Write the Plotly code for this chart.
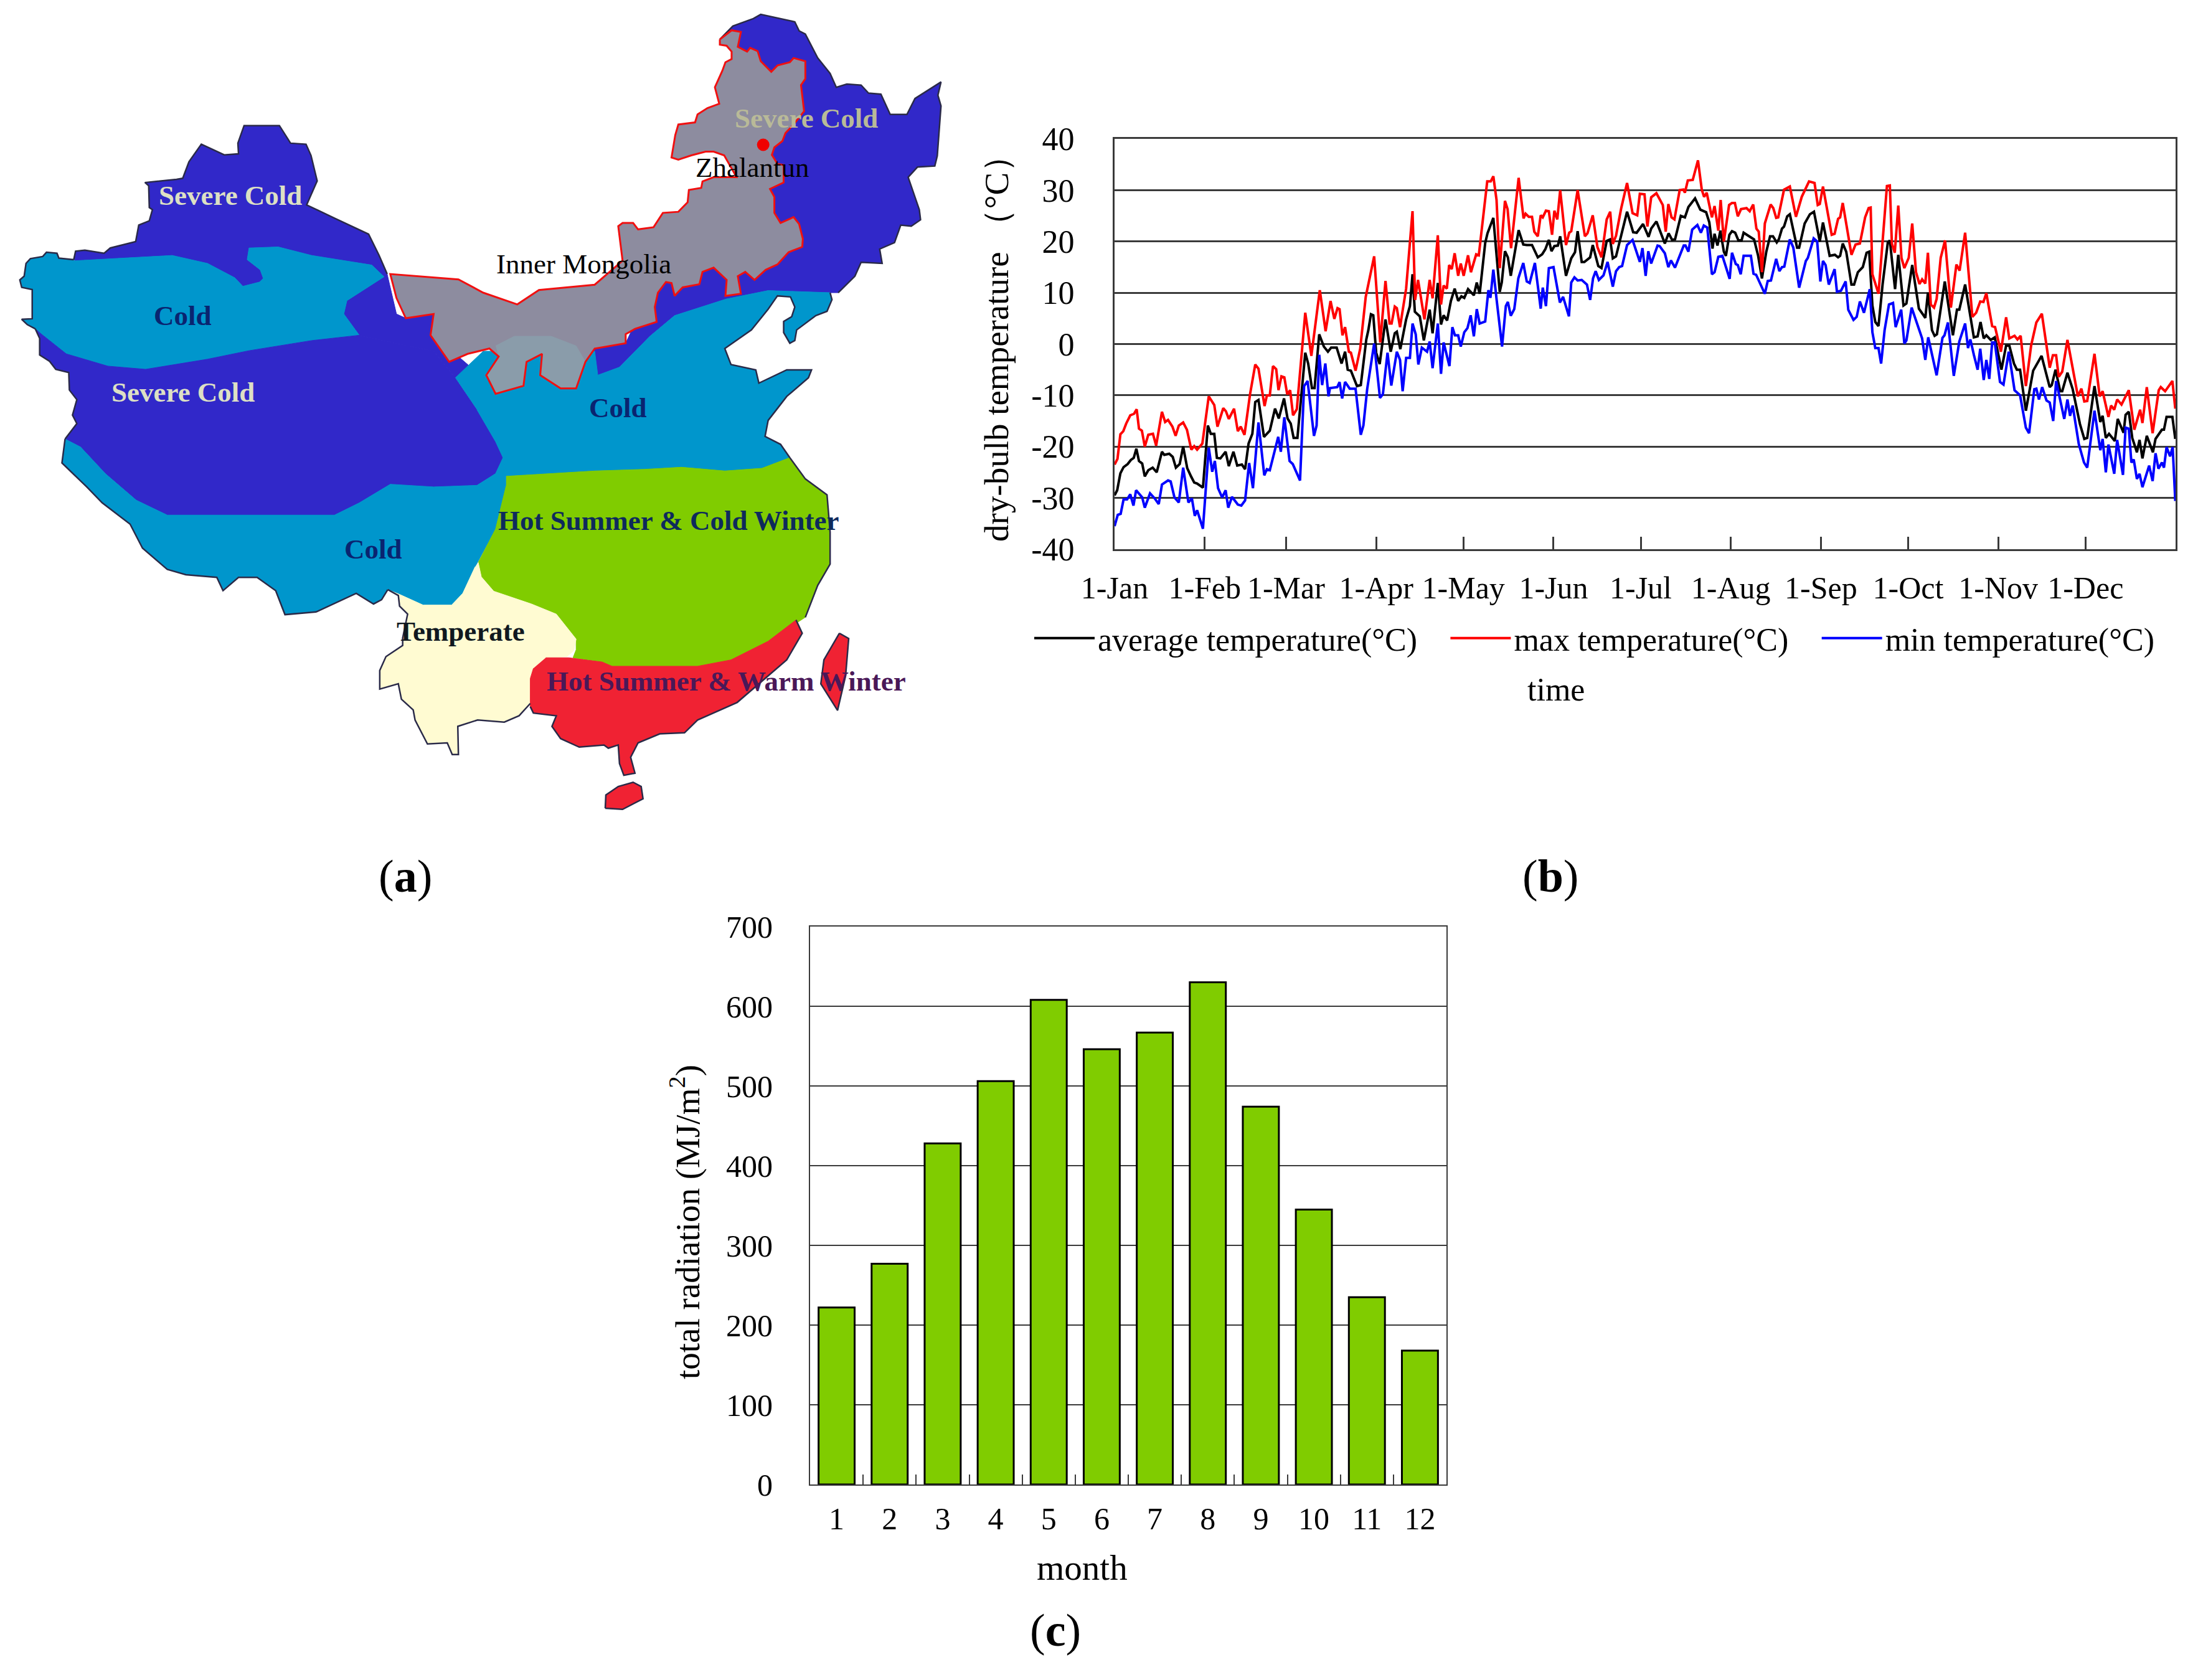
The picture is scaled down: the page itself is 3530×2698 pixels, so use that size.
import plotly.graph_objects as go

PAGE_W, PAGE_H = 3530, 2698
BODY_MARGIN = 8                 # the browser page adds this around the figure
W, H = PAGE_W - BODY_MARGIN, PAGE_H - BODY_MARGIN
SERIF = "Liberation Serif"

# ---------- panel (b): daily dry-bulb temperature, vertices ----------
month_days = [0, 31, 59, 90, 120, 151, 181, 212, 243, 273, 304, 334]
month_labels = ["1-Jan", "1-Feb", "1-Mar", "1-Apr", "1-May", "1-Jun", "1-Jul", "1-Aug", "1-Sep", "1-Oct", "1-Nov", "1-Dec"]
temp_ticks = [-40, -30, -20, -10, 0, 10, 20, 30, 40]
temp_tick_labels = ["-40", "-30", "-20", "-10", "0", "10", "20", "30", "40"]

max_temp = [
 (0,-23.5),(1,-22.4),(2,-17.6),(3,-17),(4,-15.5),(5.4,-13.9),(6.7,-13.6),(7.6,-12.7),(8.4,-16.5),(9.4,-16.9),(10.4,-20),(11.6,-17.7),(13.2,-17.5),(14.3,-19.8),(16.3,-13.2),(17.4,-15.2),(18.4,-14.8),(19.9,-16.1),(21,-17.9),(22.1,-15.9),(23.6,-15.3),(24.9,-16.7),(26.4,-20.6),(27.4,-19.9),(28.4,-20.6),(30.2,-19.4),(32.4,-10.2),(34.3,-11.9),(35.4,-16.1),(37.4,-12.5),(38.3,-13.1),(39.3,-14.6),(41.1,-12.6),(42.4,-17),(43.4,-16.1),(44.7,-17.7),(46.6,-9.8),(48.4,-4),(49.5,-4.8),(51.6,-12.1),(52.4,-10),(53.4,-10),(54.5,-4.3),(55.6,-4.9),(56.4,-9),(57.4,-6.3),(58.4,-6.5),(59.4,-9.8),(60.4,-9),(61.4,-13.9),(62.7,-12.7),(65.6,6.1),(67.7,-2.3),(70.6,10.5),(72.6,2.5),(74.3,8.4),(75.6,4.9),(76.7,7),(77.4,6.8),(78.4,1.7),(79.3,3.3),(80.6,-1.5),(81.3,-1.7),(82.9,-5.2),(84.5,-0.9),(86.4,9.2),(89.3,17.1),(91.4,0.3),(93.2,12.3),(94.6,4),(95.3,4),(96.4,7.3),(97.1,7),(98.2,3.3),(100.3,10.8),(102.5,25.9),(103.4,8.6),(104.4,12.5),(106.6,4.8),(108.4,12.5),(109.4,8.9),(111.2,21.2),(112.3,7.7),(113.2,11.4),(114.3,10.8),(115.1,15.4),(116,14.6),(117,17.7),(118.2,13.3),(119.1,15.7),(120.1,13.3),(121.6,17.3),(122.6,14),(124.4,17.5),(125.3,17.3),(126.8,24.5),(128.2,31.7),(129.4,31.7),(130.3,32.7),(131.4,28.1),(132.5,14.8),(134.3,27.9),(135.2,26.3),(136.4,18.7),(139,32.4),(140.7,24.5),(141.4,25.4),(142.5,24.8),(143.6,24.8),(144.4,21.9),(145.6,21),(146.6,25.1),(147.3,24.7),(148.4,26),(149.4,25.9),(150.5,21.3),(151.3,26),(152.3,24.3),(153.3,30),(155.3,19.3),(156.4,21.7),(157.1,22),(159.3,30),(161.8,21),(162.7,21.6),(164.5,25.1),(166.1,18.9),(167.5,16.9),(169.3,24.3),(170.5,25.8),(171.4,19.5),(172.5,21.1),(174.3,26.5),(176.3,31.4),(178.2,25.5),(179.8,25.1),(180.7,29.3),(182.3,29.2),(183.3,22.9),(184.6,28.6),(186.4,29.4),(188.6,27.1),(189.6,21.9),(190.5,27.3),(191.6,24.7),(192.6,24.3),(194.4,30),(195.7,30.1),(196.2,29.5),(197.2,31.9),(198.9,32),(200.7,35.8),(202,30.1),(202.8,28.7),(203.7,29.5),(205.5,24.7),(206.4,26.9),(207.7,22.1),(208.5,28.1),(209.6,20),(211.4,27.1),(212.4,27.5),(213.4,27.5),(214.4,24.9),(215.5,26.3),(217.4,26.5),(218.5,25.9),(219.7,27.2),(220.8,22.5),(221.6,21.9),(222.7,14),(223.7,23.5),(225.7,27.2),(226.6,26.5),(227.6,24.6),(228.3,24.7),(230.3,30.1),(232.3,30.7),(234.4,24.8),(236.4,28.7),(238.9,31.7),(240.8,31.4),(241.9,27.1),(242.6,27.3),(243.7,30.7),(246.7,21.3),(247.7,21.5),(248.9,24.4),(249.6,24.7),(250.5,27.5),(253.5,17.4),(254.9,19.4),(256.4,19.6),(258.2,24.7),(259.4,26.5),(260.1,26.6),(260.7,13.6),(262.8,9.8),(265.7,30.8),(266.7,30.9),(267.4,19.6),(268.4,17.8),(269.6,27),(270.7,16.8),(271.7,14.8),(273.2,16.8),(274.4,23.5),(275.7,14),(276.9,11.7),(277.8,12.6),(278.9,11.8),(279.8,17.8),(280.8,7.7),(281.9,7.1),(282.8,8.8),(284.2,16.8),(285.7,20.2),(287.7,7.1),(289.6,15.5),(290.7,14.3),(292.6,21.7),(295.1,5.3),(296.4,6.1),(297.8,8.3),(298.9,8.2),(299.9,9.9),(301.9,3.5),(302.9,3.3),(304.9,-1.5),(306.7,5.2),(307.8,1.1),(309.6,1.6),(310.6,0.9),(311.7,1.6),(313.5,-8.2),(315.3,-0.3),(317.1,4.2),(319,5.9),(321.7,-4.6),(322.8,-2.2),(323.9,-2.2),(324.8,-6.4),(326,-5.4),(327.8,0.8),(331.4,-10.2),(332.6,-8.7),(333.6,-11.2),(334.6,-11.1),(337.1,-1.9),(338.9,-10.2),(339.9,-9.2),(341.9,-14.2),(342.8,-12),(343.9,-12.8),(344.9,-10.8),(346.4,-11.8),(348.9,-9),(350.8,-16.7),(352.8,-12.8),(353.6,-15.4),(355.1,-8.4),(357.1,-17.4),(359.2,-9),(359.9,-8.4),(361.4,-9.2),(363.9,-7.2),(364.9,-12.6)]

avg_temp = [
 (0,-29.5),(0.9,-28.5),(2,-25.2),(3.1,-24),(4.5,-23.4),(5.6,-22.6),(6.6,-22.2),(7.5,-20.4),(8.4,-22.8),(9.5,-23.3),(10.4,-25.8),(11.6,-24.6),(13.1,-24.1),(14.5,-25),(16.3,-21),(17.1,-21.6),(18.8,-21.4),(20,-22),(21.1,-24.1),(22.4,-23.4),(23.6,-20),(25,-24.2),(26.3,-25.8),(27.4,-27),(28.4,-27.2),(30.4,-28),(32.1,-15.9),(33.1,-17.5),(34.3,-17.5),(35.2,-22.2),(36.4,-22.3),(38.2,-21),(39.3,-23.8),(40.9,-21),(42.2,-23.7),(43.8,-23.5),(44.9,-24.4),(46.1,-19.4),(47.4,-17.5),(48.4,-11.3),(49.5,-10.9),(51.4,-18.1),(53.4,-16.9),(55.2,-12.6),(56.5,-14.5),(58.3,-10.6),(59.5,-14.5),(60.6,-15.5),(61.6,-18.3),(62.9,-18.3),(65.6,-1.7),(66.6,-3.8),(67.9,-8.6),(68.8,-8.6),(70.4,1.9),(72,-0.5),(73.4,-1.5),(74.5,-0.7),(76.4,-0.7),(78.1,-3.8),(79.3,-1.5),(80.2,-5),(81.3,-5.2),(83.4,-8.2),(84.7,-8),(86.6,0.9),(87.3,2.7),(88.2,5.8),(89,5.6),(90,-1.7),(91.2,-3.9),(93.2,4.8),(95,-1.5),(96.4,2.1),(97.1,2.4),(98.3,-1),(100.3,4.8),(101.6,7.4),(102.5,13.6),(103.3,6.3),(105,5.4),(106.4,0.7),(108.4,6.7),(109.4,2.1),(111.2,11.9),(112.3,3.8),(113.2,5.6),(114.4,4.6),(115.7,8.4),(117,10.8),(118.2,8.4),(119.3,9.3),(120.3,9),(121.6,10.7),(123.6,9.5),(124.6,12),(125.6,9.8),(127.5,19.7),(128.3,21.6),(130.3,24.6),(132.5,10.2),(133.2,12),(134.3,18.1),(135.3,16.9),(136.3,13.3),(139,22.2),(140.6,19.4),(141.8,19.3),(143.6,19.3),(145.6,16.9),(147.1,17.5),(148.2,18.5),(149.4,20.3),(150.3,18.1),(151.3,19.1),(152.5,19.2),(153.3,21),(155.3,13.3),(157.1,16.7),(158.4,17.9),(159.3,22),(160.7,16),(161.6,16),(163.6,16.9),(164.5,19.3),(166.4,15.2),(167.5,14.8),(169.3,20.1),(170.5,20.4),(171.4,16.7),(172.5,17.1),(176.3,25.8),(178.4,21.8),(179.6,21.7),(181.8,23.4),(183.7,20.9),(184.6,22.5),(186.4,23.9),(189.3,19.6),(190.6,21.6),(191.8,20.3),(192.8,20.4),(194.8,25),(196.2,24.7),(197.4,26.7),(199.7,28.4),(201.5,26.2),(203.5,25.7),(204.6,23.7),(205.7,18.6),(206.4,21.5),(207.4,19.2),(208.4,22.1),(209.6,18),(210.3,17.2),(211.5,21.3),(212.4,22),(213.5,21.7),(214.6,20.2),(215.7,20.2),(216.4,21.7),(217.8,21.2),(220,20.4),(221.4,17.2),(222.7,12.8),(224.2,18),(225.5,21),(226.5,21),(227.8,19.8),(228.5,20.4),(229.6,22.5),(230.3,22.9),(231.4,24.9),(232.3,25.3),(234.8,18.8),(235.5,18.8),(237.4,23.5),(239.2,25.3),(240.6,25.8),(242.6,20),(243.7,23.7),(246,17.2),(247.8,17.4),(248.9,16.9),(249.6,17.2),(250.5,19.6),(251.7,18),(253.5,11.6),(254.4,11.6),(255.7,14),(257.4,15),(258.7,17.8),(259.6,18),(260.7,7.5),(261.7,4.3),(262.8,3.5),(264.2,11.6),(266,19.8),(266.7,20.2),(268.5,10.7),(269.6,17.4),(271.4,7.5),(272.4,7.9),(274.4,15.4),(276.7,6.9),(278.9,5.1),(279.8,10),(281.2,2.7),(282.1,1.6),(282.9,1.9),(285.6,12.2),(288.4,1.7),(289.8,6.7),(290.6,6.7),(292.6,11.6),(295.6,1.3),(296.9,1.5),(297.9,4.3),(299,1.1),(299.9,1.7),(301.4,0.8),(302.8,1.3),(305.1,-5),(306.7,-0.3),(307.8,-0.3),(309.4,-3.8),(310.4,-5),(311.5,-5),(313.5,-13),(316,-5.2),(318.9,-2.3),(321.7,-8.4),(322.4,-8),(323.7,-5),(325.3,-9.2),(326,-9.2),(327.8,-5.6),(329.6,-8.8),(332.1,-15.6),(333.6,-18.5),(334.6,-18.3),(337.1,-8.2),(339.1,-15.2),(339.9,-14),(341,-18.3),(342.1,-17.5),(344.1,-18.9),(345.1,-14.6),(347.1,-17.3),(347.8,-13.8),(348.9,-13.2),(350.1,-18.3),(351.7,-21.1),(352.6,-18.7),(353.6,-22.3),(355.1,-17.9),(357.2,-21.1),(358.1,-18.5),(360.3,-16.7),(361,-16.7),(361.9,-14.2),(363.9,-14.2),(364.9,-18.5)]

min_temp = [
 (0,-35.5),(1.1,-33.3),(2.1,-33.1),(3.1,-30.3),(4.3,-30.3),(5.4,-29.3),(6.5,-31.5),(7.4,-28.5),(9.5,-29.9),(10.4,-31.9),(12.2,-29.1),(13.8,-30.1),(15.2,-31.2),(16.3,-27.4),(18.4,-26.6),(19.3,-26.8),(20.6,-29.9),(22.1,-30.9),(23.6,-24.1),(25.4,-30.9),(26.6,-30.1),(27.6,-33.5),(28.4,-32.4),(30.4,-36),(32.4,-20.2),(33.6,-24.9),(34.5,-22.8),(35.6,-28.1),(37,-29.9),(38.2,-28.5),(39.1,-31.9),(40.4,-29.8),(42.4,-31.3),(43.6,-31.5),(44.9,-30.5),(46.3,-23.2),(47.6,-28.1),(49.5,-15.3),(51.5,-25.6),(52.4,-24.4),(53.4,-24.6),(56.3,-18.1),(57.2,-21),(58.4,-14.3),(60.2,-22.8),(61.3,-23.4),(63.8,-26.6),(65.2,-8.2),(66.4,-7.2),(68.6,-17.9),(69.5,-15.9),(70.4,-2.1),(71.4,-8),(72.5,-3.8),(73.6,-10.2),(74.1,-8.6),(76.6,-8.4),(77.4,-7.4),(78.3,-10.6),(79.3,-7.4),(80.9,-8.7),(82.9,-8.7),(84.7,-17.7),(85.6,-15.9),(86.9,-8.8),(89.3,0.1),(91.3,-10.5),(92.3,-9.8),(93.9,-1.7),(95.2,-8.1),(97.1,-1.5),(98.2,-3.1),(99.1,-9.2),(100.3,-2.7),(101.6,-2.7),(102.5,4),(103.6,1.9),(104.5,-4),(105.7,-0.7),(107.5,-1.5),(108.4,0.5),(109.4,-4.7),(111.2,4),(112.3,-5.8),(113.2,0.3),(115.2,-4.3),(116.2,3.3),(117.1,1.7),(118.2,1.7),(119.1,-0.5),(120.3,2.3),(121.4,3.1),(122.5,5.6),(123.6,1.5),(124.6,6.8),(125.6,4),(127.5,4.4),(128.6,10.5),(129.3,9),(130.3,14.5),(131.4,8.8),(133.3,-0.5),(134.6,7.4),(135.3,8.2),(136.3,5.5),(137.5,6.8),(138.9,12.8),(140.6,15.8),(141.8,12.2),(142.8,11.9),(144.6,15.8),(146.6,6.9),(147.3,11),(148.4,7.4),(149.4,14.8),(151,15),(153.2,8.1),(154.3,9.2),(156.3,5.4),(157.1,12),(158.2,13),(159.3,12.4),(160.7,12.5),(162.5,11.6),(163.6,8.6),(164.6,12.8),(165.5,14.2),(166.6,12.5),(168.2,13.4),(169.6,16),(171.4,11.2),(172.5,14.2),(173.6,15),(174.6,15.2),(176.3,19.3),(178.2,20.3),(180.7,16),(181.6,18.7),(182.7,13.3),(183.6,18.1),(184.6,15.7),(186.8,19.2),(187.5,19.1),(189.3,17.7),(190.5,15),(191.4,16.3),(192.8,14.9),(195.8,19.2),(196.4,19.2),(197.4,18),(198.7,22.3),(200.5,23.2),(201.7,21.7),(202.7,23.1),(203.9,22.7),(205.5,13.6),(206.4,14),(207.7,17),(209.1,17.2),(211.6,12.7),(212.4,17.8),(213.7,15.6),(214.4,15.4),(215.4,13.6),(216.4,17.2),(218.9,17.2),(219.8,13.7),(220.7,13.5),(223.7,9.8),(224.7,12.3),(225.8,12.4),(227.6,16.6),(228.7,14.2),(229.6,15),(230.4,15.1),(232.3,20.4),(233.5,18.8),(235.5,11),(237.8,16.2),(238.5,16.8),(240.5,20.6),(241.7,20),(242.8,12.2),(243.7,16.2),(244.6,15.4),(245.7,11.6),(247.7,14.6),(248.5,10.2),(249.9,10.4),(251.5,12.2),(252.4,6.7),(254.2,4.7),(255.3,5.3),(256.4,8.3),(257.8,6.1),(259.8,10.7),(260.7,2.3),(261.7,-0.8),(262.8,-0.8),(263.7,-3.8),(264.9,2.7),(266.4,7.7),(267.8,8),(268.7,3.3),(270.6,6.7),(271.7,0.1),(272.4,0.7),(274.2,7.1),(277.8,1.1),(278.9,-3.1),(279.9,1.3),(282.8,-6.1),(284.8,1.2),(285.5,1.7),(286.7,4.2),(288.7,-6.2),(290.6,0.5),(292.6,4),(293.6,-0.8),(294.4,0.9),(295.6,-2.1),(296.9,-5),(297.8,-0.9),(299,-7),(299.9,-3.1),(300.9,-6.8),(301.9,0.3),(302.8,0.3),(304.6,-7.4),(305.8,-7.9),(307.6,-1.5),(309.6,-9),(311.5,-10),(313.5,-16.3),(314.6,-17.4),(316.4,-8.8),(317.1,-8.7),(318,-10.8),(319.1,-8.4),(320.6,-11),(321.7,-11.4),(322.9,-15),(323.9,-7.2),(326.7,-14.6),(327.8,-10.8),(328.7,-14),(329.6,-12),(331.7,-19.5),(333.5,-23.1),(334.6,-24.1),(337.1,-13),(339.1,-20.7),(339.9,-18.5),(341,-25),(341.9,-19.6),(343.9,-25.3),(344.9,-18.7),(346.9,-25.5),(347.8,-16.3),(348.9,-16.5),(349.8,-23.1),(350.6,-22.5),(351.7,-26.3),(352.6,-25.3),(353.6,-27.9),(355.9,-23.7),(357.1,-26.7),(358.1,-21.3),(359.1,-24.3),(360.3,-23.1),(361,-24.1),(361.9,-20.1),(363.1,-21.9),(364,-20.1),(364.9,-30.6)]

# ---------- panel (c): monthly total radiation ----------
months = [str(m) for m in range(1, 13)]
radiation = [222, 277, 428, 506, 608, 546, 567, 630, 474, 345, 235, 168]

# ---------- panel (a): climate-zone outlines, traced on the map's own coordinate plane ----------
severe_nw = [(119,488),(122,472),(137,470),(168,476),(178,466),(219,454),(224,423),(241,415),(246,394),(241,390),(240,349),(234,343),(285,337),(295,335),(305,304),(325,271),(362,291),(385,289),(384,269),(394,236),(451,236),(469,269),(494,271),(502,292),(512,340),(495,385),(540,410),(595,440),(612,480),(625,515),(640,590),(655,598),(700,590),(700,630),(760,690),(735,710),(700,660),(580,630),(555,590),(560,565),(620,520),(600,498),(503,480),(449,464),(402,466),(399,488),(420,507),(425,523),(419,530),(392,538),(379,522),(335,495),(278,480),(121,490)]
cold_north = [(119,488),(95,485),(92,476),(75,474),(69,482),(49,486),(42,495),(39,519),(32,526),(35,540),(52,544),(52,599),(35,600),(44,610),(57,618),(67,628),(107,665),(174,688),(235,694),(335,675),(402,659),(503,640),(580,630),(555,590),(560,565),(620,520),(600,498),(503,480),(449,464),(402,466),(399,488),(420,507),(425,523),(419,530),(392,538),(379,522),(335,495),(278,480),(121,490)]
severe_mid = [(57,618),(67,628),(107,665),(174,688),(235,694),(335,675),(402,659),(503,640),(580,630),(700,660),(735,710),(770,770),(800,830),(812,860),(800,890),(770,912),(700,915),(630,910),(580,945),(540,968),(400,968),(270,968),(220,940),(170,890),(130,840),(105,825),(124,796),(117,780),(124,751),(112,733),(111,700),(90,694),(80,679),(64,667),(64,636)]
cold_south = [(105,825),(130,840),(170,890),(220,940),(270,968),(400,968),(540,968),(580,945),(630,910),(700,915),(770,912),(800,890),(812,860),(817,895),(817,913),(800,994),(767,1065),(747,1115),(729,1137),(683,1137),(645,1117),(626,1108),(616,1127),(603,1135),(575,1115),(510,1150),(460,1155),(445,1110),(415,1085),(385,1085),(360,1110),(350,1085),(300,1080),(270,1070),(250,1050),(230,1030),(210,985),(165,945),(140,915),(100,870)]
severe_ne = [(1162,74),(1183,49),(1216,35),(1228,27),(1283,41),(1290,58),(1300,64),(1320,109),(1340,138),(1350,164),(1367,158),(1390,160),(1402,175),(1422,177),(1437,215),(1464,215),(1477,185),(1519,154),(1514,179),(1519,199),(1513,293),(1509,312),(1481,314),(1466,333),(1484,394),(1486,413),(1471,425),(1454,423),(1444,456),(1420,468),(1424,495),(1390,493),(1380,519),(1353,550),(1340,550),(1240,546),(1172,562),(1089,593),(1049,632),(1000,690),(965,705),(945,680),(960,655),(1010,645),(1020,620),(1057,590),(1057,540),(1200,450),(1220,300),(1220,150)]
cold_east = [(735,710),(780,660),(960,660),(965,705),(1000,690),(1049,632),(1089,593),(1172,562),(1240,546),(1340,550),(1343,563),(1335,585),(1317,593),(1286,620),(1283,640),(1275,645),(1265,625),(1265,604),(1278,595),(1283,577),(1276,558),(1255,556),(1240,581),(1213,620),(1170,655),(1180,685),(1220,695),(1225,720),(1270,695),(1310,695),(1305,710),(1270,745),(1240,790),(1235,820),(1260,835),(1275,860),(1230,880),(1170,885),(1100,878),(1040,882),(960,885),(817,895),(812,860),(800,830),(770,770)]
inner_mongolia = [(1162,74),(1181,57),(1196,60),(1191,88),(1206,97),(1211,90),(1223,96),(1228,115),(1245,135),(1255,123),(1275,117),(1281,109),(1300,115),(1300,148),(1293,160),(1298,209),(1281,234),(1268,250),(1263,265),(1250,277),(1246,291),(1255,308),(1265,310),(1265,343),(1243,355),(1250,370),(1250,400),(1260,419),(1281,408),(1290,421),(1296,449),(1295,464),(1273,474),(1255,497),(1236,507),(1218,526),(1203,511),(1191,519),(1196,552),(1171,556),(1173,526),(1152,503),(1134,511),(1129,534),(1102,540),(1089,556),(1084,532),(1075,530),(1062,550),(1057,577),(1060,605),(1025,618),(1010,628),(1010,645),(960,655),(945,680),(930,730),(905,730),(872,705),(875,665),(850,680),(845,725),(800,740),(785,705),(805,670),(790,655),(755,665),(725,680),(695,630),(700,590),(655,598),(640,560),(630,515),(740,525),(780,550),(835,572),(870,545),(960,535),(1005,490),(998,425),(1005,419),(1022,419),(1030,431),(1055,427),(1070,400),(1095,398),(1110,380),(1112,357),(1132,353),(1134,341),(1152,333),(1189,333),(1169,292),(1152,285),(1139,285),(1116,292),(1095,300),(1084,296),(1090,254),(1095,234),(1122,230),(1126,215),(1142,203),(1161,195),(1154,164),(1166,133),(1171,117),(1181,111),(1181,97),(1173,86),(1162,84),(1162,74)]
mongolia_patch = [(800,650),(830,632),(890,632),(930,650),(945,680),(930,730),(905,730),(872,705),(875,665),(850,680),(845,725),(800,740),(785,705),(805,670)]
hscw = [(817,895),(960,885),(1040,882),(1100,878),(1170,885),(1230,880),(1275,860),(1300,900),(1335,930),(1340,1000),(1340,1060),(1320,1100),(1300,1160),(1240,1205),(1180,1240),(1126,1252),(988,1252),(972,1244),(925,1236),(930,1221),(930,1201),(898,1154),(858,1135),(797,1111),(777,1084),(772,1057),(800,994),(817,913)]
temperate = [(772,1057),(777,1084),(797,1111),(858,1135),(898,1154),(930,1201),(926,1223),(915,1234),(881,1236),(861,1256),(856,1275),(856,1322),(838,1345),(814,1357),(771,1353),(739,1365),(740,1418),(730,1418),(722,1396),(690,1398),(670,1353),(667,1334),(648,1314),(643,1285),(613,1295),(613,1260),(623,1234),(650,1213),(650,1199),(658,1154),(645,1139),(643,1119),(626,1108),(645,1117),(683,1137),(729,1137),(747,1115),(767,1065)]
hsww = [(881,1236),(918,1236),(972,1244),(988,1252),(1126,1252),(1180,1240),(1240,1205),(1285,1165),(1295,1190),(1270,1240),(1230,1280),(1190,1320),(1126,1353),(1105,1377),(1065,1379),(1030,1396),(1018,1423),(1025,1453),(1007,1457),(1000,1435),(998,1400),(982,1406),(975,1400),(935,1404),(905,1388),(891,1365),(898,1345),(861,1340),(856,1328),(856,1275),(861,1256)]
hainan = [(977,1519),(978,1494),(998,1478),(1022,1470),(1035,1478),(1038,1501),(1005,1521),(977,1519)]
taiwan = [(1355,1190),(1370,1200),(1365,1270),(1352,1335),(1325,1285),(1330,1240),(1355,1190)]
zhalantun = (1232, 272)

DARK_BLUE, CYAN, GRAY = "#3128C9", "#0096CC", "#8D8C9F"
GREEN, CREAM, RED = "#80CC00", "#FFFBD2", "#F02233"
COAST = "#2A2A48"

map_regions = [
    (severe_ne, DARK_BLUE), (severe_nw, DARK_BLUE), (cold_north, CYAN), (severe_mid, DARK_BLUE),
    (cold_south, CYAN), (cold_east, CYAN), (hscw, GREEN), (temperate, CREAM), (hsww, RED),
    (hainan, RED), (taiwan, RED), (inner_mongolia, GRAY), (mongolia_patch, "#8A9CAA"),
]
map_labels = [
    ("<b>Severe Cold</b>", 372, 367, "#DDE0C4"), ("<b>Cold</b>", 295, 593, "#0A2470"),
    ("<b>Severe Cold</b>", 296, 737, "#DDE0C4"), ("<b>Cold</b>", 998, 767, "#0A2470"),
    ("<b>Cold</b>", 603, 1032, "#0A2470"), ("<b>Hot Summer &amp; Cold Winter</b>", 1080, 978, "#0E2A5C"),
    ("<b>Temperate</b>", 744, 1187, "#101820"), ("<b>Hot Summer &amp; Warm Winter</b>", 1172, 1280, "#4A1858"),
    ("<b>Severe Cold</b>", 1302, 222, "#B9BA98"),
    ("Inner Mongolia", 942, 496, "black"), ("Zhalantun", 1214, 315, "black"),
]


def between(poly, a, b):
    return poly[poly.index(a):poly.index(b) + 1]


coastlines = [
    between(severe_nw, (119,488), (625,515)),
    between(cold_north, (119,488), (57,618)),
    between(severe_mid, (105,825), (64,636)) + [(57,618)],
    between(cold_south, (626,1108), (100,870)) + [(105,825)],
    between(temperate, (856,1322), (626,1108)),
    between(hsww, (1285,1165), (856,1328)),
    between(severe_ne, (1162,74), (1353,550)),
    between(cold_east, (1340,550), (1275,860)),
    between(hscw, (1275,860), (1300,1160)),
    hainan, taiwan,
]

fig = go.Figure()

# map
for region, colour in map_regions:
    fig.add_trace(go.Scatter(x=[p[0] for p in region], y=[p[1] for p in region], fill="toself",
                             fillcolor=colour, mode="lines", line=dict(color=colour, width=1),
                             xaxis="x3", yaxis="y3", showlegend=False, hoverinfo="skip"))
for line in coastlines:
    fig.add_trace(go.Scatter(x=[p[0] for p in line], y=[p[1] for p in line], mode="lines",
                             line=dict(color=COAST, width=2.5), xaxis="x3", yaxis="y3",
                             showlegend=False, hoverinfo="skip"))
fig.add_trace(go.Scatter(x=[p[0] for p in inner_mongolia], y=[p[1] for p in inner_mongolia], mode="lines",
                         line=dict(color="#F01010", width=3), xaxis="x3", yaxis="y3",
                         showlegend=False, hoverinfo="skip"))
fig.add_trace(go.Scatter(x=[zhalantun[0]], y=[zhalantun[1]], mode="markers",
                         marker=dict(color="#F00000", size=20), xaxis="x3", yaxis="y3",
                         showlegend=False, hoverinfo="skip"))

# temperature (trailing spaces reproduce the wider gaps between legend entries)
GAP = "\u00a0\u00a0\u00a0\u200a"
for name, series, colour in [("average temperature(°C)" + GAP, avg_temp, "#000000"),
                             ("max temperature(°C)" + GAP, max_temp, "#FF0000"),
                             ("min temperature(°C)", min_temp, "#0000FF")]:
    fig.add_trace(go.Scatter(x=[p[0] for p in series], y=[p[1] for p in series], mode="lines", name=name,
                             line=dict(color=colour, width=4), xaxis="x", yaxis="y"))

# radiation
fig.add_trace(go.Bar(x=months, y=radiation, marker=dict(color="#80CC00", line=dict(color="black", width=3)),
                     xaxis="x2", yaxis="y2", showlegend=False))


def px_x(v):
    return (v - BODY_MARGIN) / W


def px_y(v):
    return 1 - (v - BODY_MARGIN) / H


AXIS_COLOR = "#3A3A3A"
annotations = []
for text, x, y, colour in map_labels:
    annotations.append(dict(text=text, x=x, y=y, xref="x3", yref="y3", showarrow=False,
                            font=dict(family=SERIF, size=45, color=colour)))
for text, x, y, size, angle in [
    ("dry-bulb temperature （°C）", 1601, 546, 55, -90),
    ("time", 2499, 1107, 52, 0),
    ("total radiation (MJ/m<sup>2</sup>)", 1101, 1963, 55, -90),
    ("month", 1738, 2517, 57, 0),
    ("(<b>a</b>)", 651, 1407, 74, 0),
    ("(<b>b</b>)", 2490, 1407, 74, 0),
    ("(<b>c</b>)", 1695, 2618, 74, 0),
]:
    annotations.append(dict(text=text, x=px_x(x), y=px_y(y), xref="paper", yref="paper", showarrow=False,
                            textangle=angle, xanchor="center", yanchor="middle",
                            font=dict(family=SERIF, size=size, color="black")))

fig.update_layout(
    width=W, height=H, autosize=False, margin=dict(l=0, r=0, t=0, b=0, autoexpand=False),
    paper_bgcolor="white", plot_bgcolor="white", bargap=0.32,
    font=dict(family=SERIF, color="black", size=52),
    legend=dict(orientation="h", x=px_x(1656), y=px_y(1025), xanchor="left", yanchor="middle",
                itemwidth=97, bgcolor="rgba(0,0,0,0)", font=dict(family=SERIF, size=52, color="black")),
    xaxis=dict(domain=[px_x(1790), px_x(3494)], range=[0, 365], tickvals=month_days, ticktext=month_labels,
               ticks="inside", ticklen=20, tickwidth=2.5, tickcolor=AXIS_COLOR, showgrid=False, zeroline=False,
               showline=True, mirror=True, linecolor=AXIS_COLOR, linewidth=3, ticklabelstandoff=16,
               tickfont=dict(family=SERIF, size=50)),
    yaxis=dict(domain=[px_y(882), px_y(223)], range=[-40, 40], tickvals=temp_ticks, ticktext=temp_tick_labels,
               showgrid=True, gridcolor=AXIS_COLOR, gridwidth=3, zeroline=False, showline=True, mirror=True,
               linecolor=AXIS_COLOR, linewidth=3, ticks="", ticklabelstandoff=51,
               tickfont=dict(family=SERIF, size=52)),
    xaxis2=dict(domain=[px_x(1301), px_x(2323)], anchor="y2", type="category", tickson="boundaries",
                ticks="inside", ticklen=16, tickwidth=2, tickcolor=AXIS_COLOR, showgrid=False, zeroline=False,
                showline=True, mirror=True, linecolor=AXIS_COLOR, linewidth=2, ticklabelstandoff=10,
                tickfont=dict(family=SERIF, size=50)),
    yaxis2=dict(domain=[px_y(2384), px_y(1488)], anchor="x2", range=[0, 700], dtick=100, showgrid=True,
                gridcolor=AXIS_COLOR, gridwidth=2, zeroline=False, showline=True, mirror=True,
                linecolor=AXIS_COLOR, linewidth=2, ticks="", ticklabelstandoff=48,
                tickfont=dict(family=SERIF, size=50)),
    xaxis3=dict(domain=[0, px_x(1560)], anchor="y3", range=[8 * 1568 / 1560, 1568], visible=False),
    yaxis3=dict(domain=[px_y(1340), 1], anchor="x3", range=[1568, 8 * 1568 / 1340], visible=False),
    annotations=annotations,
)

fig.write_html("out.html")
